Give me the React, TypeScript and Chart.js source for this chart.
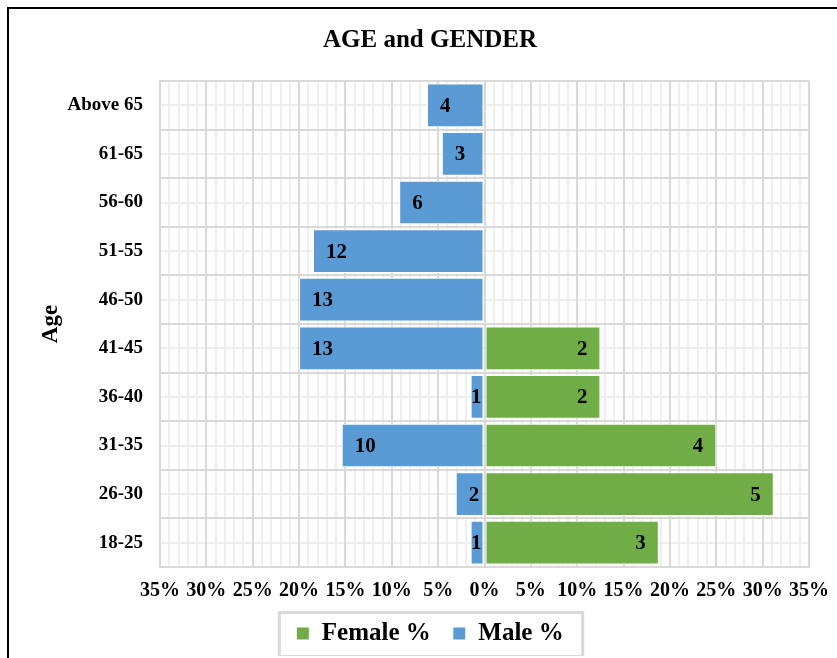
import React, { useEffect, useRef } from "react";
import { Chart, registerables } from "chart.js";

Chart.register(...registerables);

// ---- Data (top row first, as drawn) ----
const ageGroups = ["Above 65", "61-65", "56-60", "51-55", "46-50", "41-45", "36-40", "31-35", "26-30", "18-25"];
const femalePercent = [null, null, null, null, null, 12.5, 12.5, 25, 31.2, 18.8];
const malePercent = [-6.2, -4.6, -9.2, -18.5, -20, -20, -1.5, -15.4, -3.1, -1.5];
const femaleCounts = [null, null, null, null, null, 2, 2, 4, 5, 3];
const maleCounts = [4, 3, 6, 12, 13, 13, 1, 10, 2, 1];
const seriesNames = ["Female %", "Male %"];
const xMin = -35;
const xMax = 35;
const majorStep = 5;
const minorStep = 1;

const FONT = "'Liberation Serif', 'Times New Roman', serif";
const GREEN = "#70ad47";
const BLUE = "#5b9bd5";
const MAJOR = "#d9d9d9";
const MINOR = "#eeeeee";

const minorRowLines = {
  id: "minorRowLines",
  beforeDraw(chart: any) {
    const { ctx, chartArea, scales } = chart;
    const y = scales.y;
    ctx.save();
    ctx.strokeStyle = MINOR;
    ctx.lineWidth = 2;
    for (let i = 0; i < ageGroups.length; i++) {
      const py = Math.round(y.getPixelForValue(i));
      ctx.beginPath();
      ctx.moveTo(chartArea.left, py);
      ctx.lineTo(chartArea.right, py);
      ctx.stroke();
    }
    ctx.restore();
  },
};

const barValueLabels = {
  id: "barValueLabels",
  afterDatasetsDraw(chart: any) {
    const { ctx } = chart;
    ctx.save();
    ctx.font = `bold 21px ${FONT}`;
    ctx.fillStyle = "#000";
    ctx.textBaseline = "middle";
    ctx.textAlign = "left";
    chart.data.datasets.forEach((ds: any, di: number) => {
      const counts = di === 0 ? femaleCounts : maleCounts;
      const meta = chart.getDatasetMeta(di);
      meta.data.forEach((bar: any, i: number) => {
        const c = counts[i];
        if (c == null) return;
        const p = bar.getProps(["x", "y", "base"], true);
        const text = String(c);
        const w = ctx.measureText(text).width;
        const left = Math.min(p.x, p.base);
        const right = Math.max(p.x, p.base);
        let tx;
        if (di === 1) {
          tx = Math.min(left + 13, right - w - 2);
        } else {
          tx = Math.max(right - 13 - w, left + 2);
        }
        ctx.fillText(text, tx, p.y + 1);
      });
    });
    ctx.restore();
  },
};

const legendFrame = {
  id: "legendFrame",
  afterDraw(chart: any) {
    const lg = chart.legend;
    const hb = lg && lg.legendHitBoxes;
    if (!hb || !hb.length) return;
    const first = hb[0];
    const last = hb[hb.length - 1];
    const cy = first.top + first.height / 2;
    const l = first.left - 17;
    const r = last.left + last.width + 19;
    const { ctx } = chart;
    ctx.save();
    ctx.strokeStyle = MAJOR;
    ctx.lineWidth = 3;
    ctx.strokeRect(l, cy - 21, r - l, 44);
    ctx.restore();
  },
};

export default function App() {
  const ref = useRef<HTMLCanvasElement>(null);

  useEffect(() => {
    if (!ref.current) return;
    const chart = new Chart(ref.current, {
      type: "bar",
      data: {
        labels: ageGroups,
        datasets: [
          {
            label: seriesNames[0],
            data: femalePercent as any,
            backgroundColor: GREEN,
            borderColor: "#ffffff",
            borderWidth: 1,
            borderSkipped: false,
            barPercentage: 0.9,
            categoryPercentage: 1,
          },
          {
            label: seriesNames[1],
            data: malePercent,
            backgroundColor: BLUE,
            borderColor: "#ffffff",
            borderWidth: 1,
            borderSkipped: false,
            barPercentage: 0.9,
            categoryPercentage: 1,
          },
        ],
      },
      options: {
        indexAxis: "y",
        responsive: false,
        animation: false,
        events: [],
        layout: { padding: { top: 0, left: 20, right: 6, bottom: 0 } },
        scales: {
          x: {
            type: "linear",
            stacked: true,
            min: xMin,
            max: xMax,
            afterFit(scale: any) {
              scale.height = 32;
              scale.paddingRight = 28;
            },
            ticks: {
              stepSize: minorStep,
              maxTicksLimit: 200,
              autoSkip: false,
              maxRotation: 0,
              minRotation: 0,
              padding: 12,
              color: "#000",
              font: { family: FONT, size: 20, weight: "bold" },
              callback: (v: any) => (Number(v) % majorStep === 0 ? Math.abs(Number(v)) + "%" : ""),
            },
            grid: {
              drawTicks: false,
              color: (c: any) => (c.tick && c.tick.value % majorStep === 0 ? MAJOR : MINOR),
              lineWidth: 2,
            },
            border: { display: true, color: MAJOR, width: 2 },
          },
          y: {
            type: "category",
            stacked: true,
            afterFit(scale: any) {
              scale.width = 131;
            },
            ticks: {
              autoSkip: false,
              padding: 17,
              color: "#000",
              font: { family: FONT, size: 19, weight: "bold" },
            },
            grid: { drawTicks: false, color: MAJOR, lineWidth: 2 },
            border: { display: true, color: MAJOR, width: 2 },
            title: {
              display: true,
              text: "Age",
              color: "#000",
              padding: { top: 8, bottom: 0 },
              font: { family: FONT, size: 23, weight: "bold" },
            },
          },
        },
        plugins: {
          title: {
            display: true,
            text: "AGE and GENDER",
            color: "#000",
            padding: { top: 17, bottom: 25 },
            font: { family: FONT, size: 25, weight: "bold" },
          },
          legend: {
            position: "bottom",
            labels: {
              boxWidth: 13,
              boxHeight: 13,
              padding: 22,
              color: "#000",
              font: { family: FONT, size: 25, weight: "bold" },
            },
          },
          tooltip: { enabled: false },
        },
      },
      plugins: [minorRowLines, barValueLabels, legendFrame],
    } as any);
    return () => chart.destroy();
  }, []);

  return (
    <div
      style={{
        position: "absolute",
        left: 7,
        top: 7,
        width: 830,
        height: 651,
        boxSizing: "border-box",
        borderTop: "2px solid #000",
        borderLeft: "2px solid #000",
        background: "#fff",
        overflow: "hidden",
      }}
    >
      <canvas ref={ref} width={828} height={647} style={{ display: "block", width: 828, height: 647 }} />
    </div>
  );
}
